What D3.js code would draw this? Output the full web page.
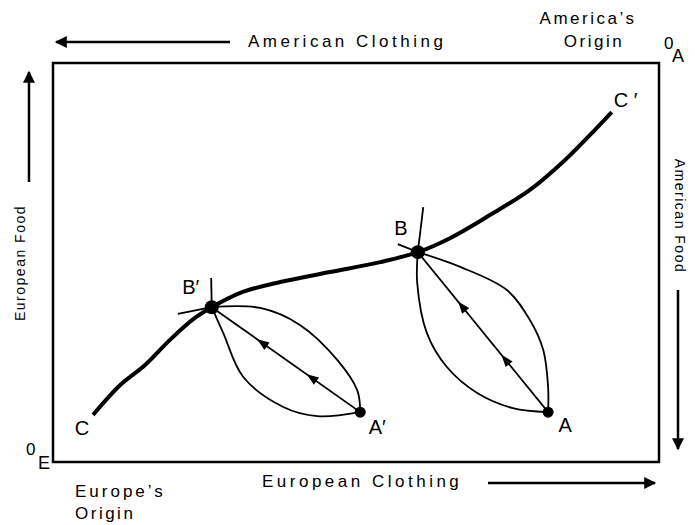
<!DOCTYPE html>
<html>
<head>
  <meta charset="utf-8">
  <title>Edgeworth box</title>
  <script src="https://cdn.jsdelivr.net/npm/d3@7"></script>
  <style>
    body { margin: 0; background: #fff; }
    text { font-family: "Liberation Sans", Arial, sans-serif; fill: #000; }
  </style>
</head>
<body>
<div id="chart"></div>
<script>
// contract curve C -> C' (box units, 0..100 each way from Europe's origin)
var contractX = [6.6, 11.1, 15.2, 19.3, 23.4, 26.2, 30.9, 37.5, 45.7, 54.0, 60.2, 65.5, 72.1, 78.7, 84.5, 89.4, 92.2];
var contractY = [11.8, 19.3, 24.3, 30.6, 36.1, 38.8, 42.4, 45.1, 47.6, 50.1, 52.6, 56.1, 61.9, 68.2, 75.7, 83.2, 87.7];

// named allocations
var pointNames = ["A", "A′", "B", "B′"];
var pointX = [81.7, 50.7, 60.2, 26.2];
var pointY = [12.5, 12.5, 52.6, 38.8];

// lens between B' and A'
var lens1UpperX = [26.2, 34.2, 40.8, 46.9, 50.2, 50.7];
var lens1UpperY = [38.8, 38.6, 34.3, 25.6, 18.0, 12.5];
var lens1LowerX = [26.2, 28.1, 31.4, 38.0, 43.6, 50.7];
var lens1LowerY = [38.8, 32.3, 21.3, 13.8, 11.5, 12.5];
var tail1X = [[20.6, 26.2], [26.2, 26.1]];
var tail1Y = [[37.1, 38.8], [38.8, 46.1]];

// lens between B and A
var lens2UpperX = [60.2, 67.2, 74.9, 78.7, 80.9, 81.7, 81.7];
var lens2UpperY = [52.6, 48.9, 43.1, 35.6, 28.1, 18.8, 12.5];
var lens2LowerX = [60.2, 60.1, 61.7, 65.0, 70.0, 75.9, 81.7];
var lens2LowerY = [52.6, 44.9, 32.3, 23.8, 17.3, 13.5, 12.5];
var tail2X = [[56.9, 60.2], [60.2, 61.1]];
var tail2Y = [[54.6, 52.6], [52.6, 63.9]];

var W = 695, H = 525;
var box = {left: 53, right: 659, top: 63, bottom: 462};

var svg = d3.select("#chart").append("svg")
    .attr("width", W)
    .attr("height", H);

var x = d3.scaleLinear().domain([0, 100]).range([box.left, box.right]);
var y = d3.scaleLinear().domain([0, 100]).range([box.bottom, box.top]);

var defs = svg.append("defs");
defs.append("marker")
    .attr("id", "bighead")
    .attr("viewBox", "0 0 10 10")
    .attr("refX", 9).attr("refY", 5)
    .attr("markerUnits", "userSpaceOnUse")
    .attr("markerWidth", 18).attr("markerHeight", 12)
    .attr("orient", "auto")
    .append("path").attr("d", "M0,0 L10,5 L0,10 Z").attr("fill", "#000");

// the box
svg.append("rect")
    .attr("x", x(0)).attr("y", y(100))
    .attr("width", x(100) - x(0)).attr("height", y(0) - y(100))
    .attr("fill", "none").attr("stroke", "#000").attr("stroke-width", 2.5);

function zip(xs, ys) { return xs.map(function(v, i) { return [x(v), y(ys[i])]; }); }

var smooth = d3.line().curve(d3.curveCatmullRom.alpha(0.5));

// indifference lenses
[[lens1UpperX, lens1UpperY], [lens1LowerX, lens1LowerY],
 [lens2UpperX, lens2UpperY], [lens2LowerX, lens2LowerY]].forEach(function(c) {
  svg.append("path")
      .attr("d", smooth(zip(c[0], c[1])))
      .attr("fill", "none").attr("stroke", "#000").attr("stroke-width", 1.8);
});
[[tail1X, tail1Y], [tail2X, tail2Y]].forEach(function(t) {
  t[0].forEach(function(xs, i) {
    svg.append("path")
        .attr("d", smooth(zip(xs, t[1][i])))
        .attr("fill", "none").attr("stroke", "#000").attr("stroke-width", 1.8);
  });
});

// trade lines A -> B, A' -> B' with small arrowheads
function tradeLine(i0, i1) {
  var x0 = x(pointX[i0]), y0 = y(pointY[i0]), x1 = x(pointX[i1]), y1 = y(pointY[i1]);
  svg.append("line")
      .attr("x1", x0).attr("y1", y0).attr("x2", x1).attr("y2", y1)
      .attr("stroke", "#000").attr("stroke-width", 1.8);
  var ang = Math.atan2(y1 - y0, x1 - x0) * 180 / Math.PI;
  [1 / 3, 2 / 3].forEach(function(t) {
    var px = x0 + (x1 - x0) * t, py = y0 + (y1 - y0) * t;
    svg.append("path")
        .attr("d", "M5,0 L-7,-4.5 L-7,4.5 Z")
        .attr("transform", "translate(" + px + "," + py + ") rotate(" + ang + ")")
        .attr("fill", "#000");
  });
}
tradeLine(0, 2);
tradeLine(1, 3);

// contract curve
svg.append("path")
    .attr("d", smooth(zip(contractX, contractY)))
    .attr("fill", "none").attr("stroke", "#000").attr("stroke-width", 4);

// dots
svg.selectAll("circle.pt")
    .data(pointNames)
    .enter().append("circle")
    .attr("class", "pt")
    .attr("cx", function(d, i) { return x(pointX[i]); })
    .attr("cy", function(d, i) { return y(pointY[i]); })
    .attr("r", function(d) { return d.charAt(0) === "B" ? 7 : 5.5; })
    .attr("fill", "#000");

// point labels
var labelOffsets = {"A": [17, 20], "A′": [17, 22], "B": [-17, -17], "B′": [-21, -13]};
svg.selectAll("text.pt")
    .data(pointNames)
    .enter().append("text")
    .attr("class", "pt")
    .attr("x", function(d, i) { return x(pointX[i]) + labelOffsets[d][0]; })
    .attr("y", function(d, i) { return y(pointY[i]) + labelOffsets[d][1]; })
    .attr("text-anchor", "middle")
    .attr("font-size", 20)
    .text(function(d) { return d; });

var n = contractX.length;
svg.append("text")
    .attr("x", x(contractX[0]) - 11).attr("y", y(contractY[0]) + 20)
    .attr("text-anchor", "middle").attr("font-size", 20).text("C");
svg.append("text")
    .attr("x", x(contractX[n - 1]) + 14).attr("y", y(contractY[n - 1]) - 5)
    .attr("text-anchor", "middle").attr("font-size", 20).text("C ′");

// axis titles and arrows
svg.append("text").attr("x", 248).attr("y", 47).attr("font-size", 17)
    .attr("letter-spacing", 3.5).text("American Clothing");
svg.append("line").attr("x1", 230).attr("y1", 42).attr("x2", 56).attr("y2", 42)
    .attr("stroke", "#000").attr("stroke-width", 2.5).attr("marker-end", "url(#bighead)");

svg.append("text").attr("x", 262).attr("y", 487).attr("font-size", 17)
    .attr("letter-spacing", 3.5).text("European Clothing");
svg.append("line").attr("x1", 488).attr("y1", 483).attr("x2", 655).attr("y2", 483)
    .attr("stroke", "#000").attr("stroke-width", 2.5).attr("marker-end", "url(#bighead)");

svg.append("text")
    .attr("transform", "translate(25,263) rotate(-90)")
    .attr("text-anchor", "middle").attr("font-size", 14)
    .attr("letter-spacing", 1.5).text("European Food");
svg.append("line").attr("x1", 29).attr("y1", 182).attr("x2", 29).attr("y2", 72)
    .attr("stroke", "#000").attr("stroke-width", 2.5).attr("marker-end", "url(#bighead)");

svg.append("text")
    .attr("transform", "translate(675,216) rotate(90)")
    .attr("text-anchor", "middle").attr("font-size", 14)
    .attr("letter-spacing", 1.5).text("American Food");
svg.append("line").attr("x1", 678).attr("y1", 290).attr("x2", 678).attr("y2", 449)
    .attr("stroke", "#000").attr("stroke-width", 2.5).attr("marker-end", "url(#bighead)");

// origins
svg.append("text").attr("x", 588).attr("y", 24).attr("text-anchor", "middle")
    .attr("font-size", 17).attr("letter-spacing", 2.5).text("America’s");
svg.append("text").attr("x", 594).attr("y", 47).attr("text-anchor", "middle")
    .attr("font-size", 17).attr("letter-spacing", 2.5).text("Origin");
svg.append("text").attr("x", 664).attr("y", 49).attr("font-size", 17).text("0");
svg.append("text").attr("x", 672).attr("y", 62).attr("font-size", 18).text("A");

svg.append("text").attr("x", 75).attr("y", 497)
    .attr("font-size", 17).attr("letter-spacing", 3).text("Europe’s");
svg.append("text").attr("x", 75).attr("y", 519)
    .attr("font-size", 17).attr("letter-spacing", 2.5).text("Origin");
svg.append("text").attr("x", 26).attr("y", 455).attr("font-size", 17).text("0");
svg.append("text").attr("x", 38).attr("y", 469).attr("font-size", 18).text("E");
</script>
</body>
</html>
